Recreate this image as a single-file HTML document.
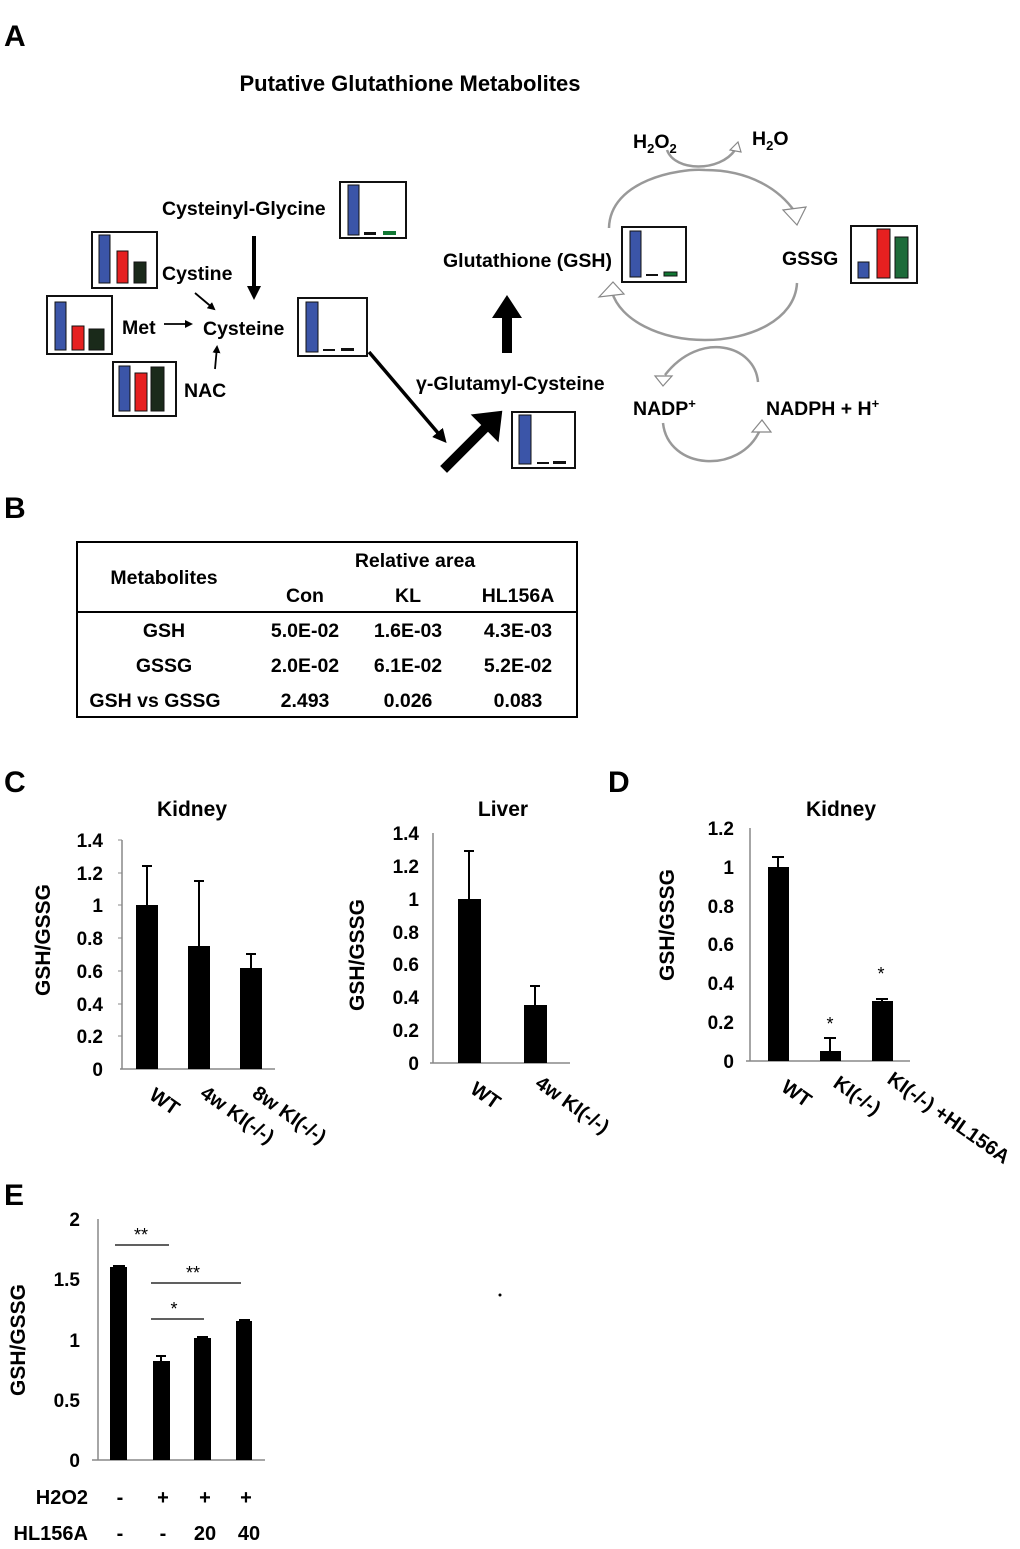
<!DOCTYPE html>
<html><head><meta charset="utf-8"><style>
html,body{margin:0;padding:0;background:#fff;}
svg{display:block;}
text{font-family:"Liberation Sans",Arial,sans-serif;font-weight:bold;fill:#000;}
.ax{stroke:#888;stroke-width:1.5;fill:none;}
.box{fill:#fff;stroke:#111;stroke-width:2;}
.cyc{fill:none;stroke:#999;stroke-width:2.5;}
.oh{fill:#fff;stroke:#888;stroke-width:1.2;}
</style></head><body>
<svg width="1020" height="1549" viewBox="0 0 1020 1549" xmlns="http://www.w3.org/2000/svg">
<defs>
<marker id="ah" markerWidth="8" markerHeight="8" refX="6" refY="4" orient="auto" markerUnits="userSpaceOnUse"><path d="M0,0 L8,4 L0,8 z" fill="#000"/></marker>
<marker id="ah2" markerWidth="14" markerHeight="14" refX="10" refY="7" orient="auto" markerUnits="userSpaceOnUse"><path d="M0,0 L14,7 L0,14 z" fill="#000"/></marker>
</defs>

<!-- Panel A -->
<text x="4" y="46" font-size="30">A</text>
<text x="410" y="91" font-size="22" text-anchor="middle">Putative Glutathione Metabolites</text>

<rect class="box" x="340" y="182" width="66" height="56"/>
<rect x="348" y="185" width="11" height="50" fill="#3b55a8" stroke="#111"/>
<rect x="364" y="232" width="12" height="3" fill="#111"/><rect x="383" y="231" width="13" height="4" fill="#173"/>

<rect class="box" x="92" y="232" width="65" height="56"/>
<rect x="99" y="235" width="11" height="48" fill="#3b55a8" stroke="#111"/>
<rect x="117" y="251" width="11" height="32" fill="#e62020" stroke="#111"/>
<rect x="134" y="262" width="12" height="21" fill="#1a2a1a" stroke="#111"/>

<rect class="box" x="47" y="296" width="65" height="58"/>
<rect x="55" y="302" width="11" height="48" fill="#3b55a8" stroke="#111"/>
<rect x="72" y="326" width="12" height="24" fill="#e62020" stroke="#111"/>
<rect x="89" y="329" width="15" height="21" fill="#1a2a1a" stroke="#111"/>

<rect class="box" x="113" y="362" width="63" height="54"/>
<rect x="119" y="366" width="11" height="45" fill="#3b55a8" stroke="#111"/>
<rect x="135" y="373" width="12" height="38" fill="#e62020" stroke="#111"/>
<rect x="151" y="367" width="13" height="44" fill="#1a2a1a" stroke="#111"/>

<rect class="box" x="298" y="298" width="69" height="58"/>
<rect x="306" y="302" width="12" height="50" fill="#3b55a8" stroke="#111"/>
<rect x="323" y="349" width="12" height="2" fill="#111"/><rect x="341" y="348" width="13" height="3" fill="#111"/>

<text x="162" y="215" font-size="19.5">Cysteinyl-Glycine</text>
<text x="162" y="280" font-size="19.5">Cystine</text>
<text x="122" y="334" font-size="19.5">Met</text>
<text x="203" y="335" font-size="19.5">Cysteine</text>
<text x="184" y="397" font-size="19.5">NAC</text>

<line x1="254" y1="236" x2="254" y2="296" stroke="#000" stroke-width="4" marker-end="url(#ah2)"/>
<line x1="195" y1="293" x2="214" y2="309" stroke="#000" stroke-width="1.8" marker-end="url(#ah)"/>
<line x1="164" y1="324" x2="191" y2="324" stroke="#000" stroke-width="1.8" marker-end="url(#ah)"/>
<line x1="215" y1="369" x2="217" y2="347" stroke="#000" stroke-width="1.8" marker-end="url(#ah)"/>
<line x1="369" y1="352" x2="444" y2="440" stroke="#000" stroke-width="3.5" marker-end="url(#ah2)"/>
<polygon points="443,466 484,425 475,416 500,413 497,438 488,429 447,470" fill="#000" stroke="#000" stroke-width="4"/>
<polygon points="502,353 512,353 512,318 522,318 507,295 492,318 502,318" fill="#000"/>

<text x="443" y="267" font-size="19.5">Glutathione (GSH)</text>
<text x="782" y="265" font-size="19.5">GSSG</text>
<text x="416" y="390" font-size="19.5">γ-Glutamyl-Cysteine</text>
<text x="633" y="148" font-size="19.5">H<tspan font-size="13" dy="5">2</tspan><tspan dy="-5">O</tspan><tspan font-size="13" dy="5">2</tspan></text>
<text x="752" y="145" font-size="19.5">H<tspan font-size="13" dy="5">2</tspan><tspan dy="-5">O</tspan></text>
<text x="633" y="415" font-size="19.5">NADP<tspan font-size="13" dy="-7">+</tspan></text>
<text x="766" y="415" font-size="19.5">NADPH + H<tspan font-size="13" dy="-7">+</tspan></text>

<rect class="box" x="622" y="227" width="64" height="55"/>
<rect x="630" y="231" width="11" height="46" fill="#3b55a8" stroke="#111"/>
<rect x="646" y="274" width="12" height="2" fill="#111"/><rect x="664" y="272" width="13" height="4" fill="#173" stroke="#111"/>

<rect class="box" x="851" y="226" width="66" height="57"/>
<rect x="858" y="262" width="11" height="16" fill="#3b55a8" stroke="#111"/>
<rect x="877" y="229" width="13" height="49" fill="#e62020" stroke="#111"/>
<rect x="895" y="237" width="13" height="41" fill="#1d6b3a" stroke="#111"/>

<rect class="box" x="512" y="412" width="63" height="56"/>
<rect x="519" y="415" width="12" height="49" fill="#3b55a8" stroke="#111"/>
<rect x="537" y="462" width="12" height="2" fill="#111"/><rect x="553" y="461" width="13" height="3" fill="#111"/>

<path class="cyc" d="M609,228 C610,180 680,168 705,170 C750,170 780,190 795,212"/>
<polygon class="oh" points="783,210 806,207 797,225"/>
<path class="cyc" d="M797,283 C795,320 750,340 705,340 C660,340 620,320 612,292"/>
<polygon class="oh" points="599,297 613,282 624,294"/>
<path class="cyc" d="M667,150 C675,172 720,172 735,150"/>
<polygon class="oh" points="730,150 738,142 741,152"/>
<path class="cyc" d="M758,382 C755,345 700,330 665,375"/>
<polygon class="oh" points="655,376 672,376 663,386"/>
<path class="cyc" d="M663,423 C668,470 740,475 760,430"/>
<polygon class="oh" points="752,432 771,432 762,420"/>

<!-- Panel B -->
<text x="4" y="518" font-size="30">B</text>
<rect x="77" y="542" width="500" height="175" fill="none" stroke="#000" stroke-width="2"/>
<line x1="77" y1="612" x2="577" y2="612" stroke="#000" stroke-width="2"/>
<g font-size="19.5" text-anchor="middle">
<text x="164" y="584" text-anchor="middle">Metabolites</text>
<text x="415" y="567" text-anchor="middle">Relative area</text>
<text x="305" y="602" text-anchor="middle">Con</text>
<text x="408" y="602" text-anchor="middle">KL</text>
<text x="518" y="602" text-anchor="middle">HL156A</text>
<text x="164" y="637" text-anchor="middle">GSH</text>
<text x="305" y="637" text-anchor="middle">5.0E-02</text>
<text x="408" y="637" text-anchor="middle">1.6E-03</text>
<text x="518" y="637" text-anchor="middle">4.3E-03</text>
<text x="164" y="672" text-anchor="middle">GSSG</text>
<text x="305" y="672" text-anchor="middle">2.0E-02</text>
<text x="408" y="672" text-anchor="middle">6.1E-02</text>
<text x="518" y="672" text-anchor="middle">5.2E-02</text>
<text x="155" y="707" text-anchor="middle">GSH vs GSSG</text>
<text x="305" y="707" text-anchor="middle">2.493</text>
<text x="408" y="707" text-anchor="middle">0.026</text>
<text x="518" y="707" text-anchor="middle">0.083</text>
</g>

<!-- Panel C Kidney -->
<text x="4" y="792" font-size="30">C</text>
<text x="192" y="816" font-size="21" text-anchor="middle">Kidney</text>
<line class="ax" x1="122" y1="840" x2="122" y2="1069"/>
<line class="ax" x1="120" y1="1069" x2="275" y2="1069"/>
<g font-size="19" text-anchor="end">
<text x="103" y="1076">0</text><text x="103" y="1043">0.2</text><text x="103" y="1011">0.4</text><text x="103" y="978">0.6</text><text x="103" y="945">0.8</text><text x="103" y="912">1</text><text x="103" y="880">1.2</text><text x="103" y="847">1.4</text>
</g>
<g stroke="#888"><line x1="118" y1="840" x2="122" y2="840"/><line x1="118" y1="873" x2="122" y2="873"/><line x1="118" y1="905" x2="122" y2="905"/><line x1="118" y1="938" x2="122" y2="938"/><line x1="118" y1="971" x2="122" y2="971"/><line x1="118" y1="1004" x2="122" y2="1004"/><line x1="118" y1="1036" x2="122" y2="1036"/></g>
<g stroke="#000" stroke-width="2">
<line x1="147" y1="905" x2="147" y2="866"/><line x1="142" y1="866" x2="152" y2="866"/>
<line x1="199" y1="946" x2="199" y2="881"/><line x1="194" y1="881" x2="204" y2="881"/>
<line x1="251" y1="968" x2="251" y2="954"/><line x1="246" y1="954" x2="256" y2="954"/>
</g>
<rect x="136" y="905" width="22" height="164" fill="#000"/>
<rect x="188" y="946" width="22" height="123" fill="#000"/>
<rect x="240" y="968" width="22" height="101" fill="#000"/>
<text transform="translate(50,940) rotate(-90)" font-size="21" text-anchor="middle">GSH/GSSG</text>
<g font-size="20">
<text transform="translate(148,1098) rotate(35)">WT</text>
<text transform="translate(199,1096) rotate(35)">4w KI(-/-)</text>
<text transform="translate(251,1096) rotate(35)">8w KI(-/-)</text>
</g>

<!-- Liver -->
<text x="503" y="816" font-size="21" text-anchor="middle">Liver</text>
<line class="ax" x1="433" y1="833" x2="433" y2="1063"/>
<line class="ax" x1="430" y1="1063" x2="570" y2="1063"/>
<g font-size="19" text-anchor="end">
<text x="419" y="1070">0</text><text x="419" y="1037">0.2</text><text x="419" y="1004">0.4</text><text x="419" y="971">0.6</text><text x="419" y="939">0.8</text><text x="419" y="906">1</text><text x="419" y="873">1.2</text><text x="419" y="840">1.4</text>
</g>
<g stroke="#000" stroke-width="2">
<line x1="469" y1="899" x2="469" y2="851"/><line x1="464" y1="851" x2="474" y2="851"/>
<line x1="535" y1="1005" x2="535" y2="986"/><line x1="530" y1="986" x2="540" y2="986"/>
</g>
<rect x="458" y="899" width="23" height="164" fill="#000"/>
<rect x="524" y="1005" width="23" height="58" fill="#000"/>
<text transform="translate(364,955) rotate(-90)" font-size="21" text-anchor="middle">GSH/GSSG</text>
<g font-size="20">
<text transform="translate(469,1092) rotate(35)">WT</text>
<text transform="translate(534,1086) rotate(35)">4w KI(-/-)</text>
</g>

<!-- Panel D -->
<text x="608" y="792" font-size="30">D</text>
<text x="841" y="816" font-size="21" text-anchor="middle">Kidney</text>
<line class="ax" x1="750" y1="828" x2="750" y2="1061"/>
<line class="ax" x1="746" y1="1061" x2="910" y2="1061"/>
<g font-size="19" text-anchor="end">
<text x="734" y="1068">0</text><text x="734" y="1029">0.2</text><text x="734" y="990">0.4</text><text x="734" y="951">0.6</text><text x="734" y="913">0.8</text><text x="734" y="874">1</text><text x="734" y="835">1.2</text>
</g>
<g stroke="#000" stroke-width="2">
<line x1="778" y1="867" x2="778" y2="857"/><line x1="772" y1="857" x2="784" y2="857"/>
<line x1="830" y1="1051" x2="830" y2="1038"/><line x1="824" y1="1038" x2="836" y2="1038"/>
<line x1="882" y1="1001" x2="882" y2="999"/><line x1="876" y1="999" x2="888" y2="999"/>
</g>
<rect x="768" y="867" width="21" height="194" fill="#000"/>
<rect x="820" y="1051" width="21" height="10" fill="#000"/>
<rect x="872" y="1001" width="21" height="60" fill="#000"/>
<text x="830" y="1030" font-size="18" text-anchor="middle" style="font-weight:normal">*</text>
<text x="881" y="980" font-size="18" text-anchor="middle" style="font-weight:normal">*</text>
<text transform="translate(674,925) rotate(-90)" font-size="21" text-anchor="middle">GSH/GSSG</text>
<g font-size="20">
<text transform="translate(780,1090) rotate(35)">WT</text>
<text transform="translate(832,1086) rotate(35)">KI(-/-)</text>
<text transform="translate(886,1082) rotate(35)">KI(-/-) +HL156A</text>
</g>

<!-- Panel E -->
<text x="4" y="1205" font-size="30">E</text>
<line class="ax" x1="98" y1="1219" x2="98" y2="1460"/>
<line class="ax" x1="92" y1="1460" x2="265" y2="1460"/>
<g font-size="19" text-anchor="end">
<text x="80" y="1467">0</text><text x="80" y="1407">0.5</text><text x="80" y="1347">1</text><text x="80" y="1286">1.5</text><text x="80" y="1226">2</text>
</g>
<g stroke="#000" stroke-width="2">
<line x1="113" y1="1266" x2="125" y2="1266"/>
<line x1="161" y1="1361" x2="161" y2="1356"/><line x1="156" y1="1356" x2="166" y2="1356"/>
<line x1="197" y1="1337" x2="208" y2="1337"/>
<line x1="239" y1="1320" x2="250" y2="1320"/>
</g>
<rect x="110" y="1267" width="17" height="193" fill="#000"/>
<rect x="153" y="1361" width="17" height="99" fill="#000"/>
<rect x="194" y="1338" width="17" height="122" fill="#000"/>
<rect x="236" y="1321" width="16" height="139" fill="#000"/>
<g stroke="#000" stroke-width="1.2">
<line x1="115" y1="1245" x2="169" y2="1245"/>
<line x1="151" y1="1283" x2="241" y2="1283"/>
<line x1="151" y1="1319" x2="204" y2="1319"/>
</g>
<g font-size="18" text-anchor="middle">
<text x="141" y="1241" style="font-weight:normal">**</text>
<text x="193" y="1279" style="font-weight:normal">**</text>
<text x="174" y="1315" style="font-weight:normal">*</text>
</g>
<text transform="translate(25,1340) rotate(-90)" font-size="21" text-anchor="middle">GSH/GSSG</text>
<g font-size="20" text-anchor="middle">
<text x="88" y="1504" text-anchor="end">H2O2</text>
<text x="120" y="1504">-</text><text x="163" y="1504">+</text><text x="205" y="1504">+</text><text x="246" y="1504">+</text>
<text x="88" y="1540" text-anchor="end">HL156A</text>
<text x="120" y="1540">-</text><text x="163" y="1540">-</text><text x="205" y="1540">20</text><text x="249" y="1540">40</text>
</g>
<circle cx="500" cy="1295" r="1.5" fill="#000"/>
</svg>
</body></html>
